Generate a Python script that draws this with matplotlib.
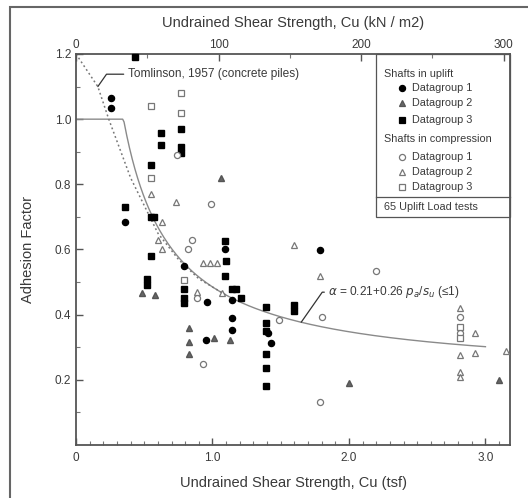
import matplotlib
matplotlib.use("Agg")
import matplotlib.pyplot as plt
from matplotlib.patches import Rectangle
from matplotlib.lines import Line2D
import numpy as np

plt.rcParams['font.family'] = ['Liberation Sans', 'DejaVu Sans']

# undrained shear strength cu (tsf) and adhesion factor, per group
up1_cu = [0.26, 0.26, 0.36, 0.79, 0.96, 1.14, 1.14, 1.14, 0.95, 1.41, 1.43, 1.79, 1.09]
up1_a = [1.064, 1.034, 0.684, 0.55, 0.44, 0.445, 0.39, 0.353, 0.322, 0.345, 0.313, 0.598, 0.60]

up2_cu = [0.48, 0.58, 0.83, 0.83, 0.83, 1.01, 1.13, 1.06, 2.0, 3.1]
up2_a = [0.466, 0.46, 0.36, 0.317, 0.28, 0.328, 0.322, 0.82, 0.19, 0.2]

up3_cu = [0.43, 0.77, 0.77, 0.77, 0.62, 0.62, 0.55, 0.36, 0.55, 0.57, 0.55, 0.52, 0.52,
          1.10, 1.09, 1.09, 0.79, 0.79, 0.79, 1.14, 1.17, 1.21, 1.39, 1.39, 1.39, 1.39,
          1.39, 1.39, 1.60, 1.60]
up3_a = [1.19, 0.97, 0.915, 0.895, 0.957, 0.92, 0.86, 0.73, 0.70, 0.70, 0.58, 0.51, 0.49,
         0.565, 0.625, 0.52, 0.48, 0.45, 0.435, 0.48, 0.48, 0.45, 0.424, 0.375, 0.35, 0.28,
         0.236, 0.18, 0.43, 0.41]

co1_cu = [0.74, 0.99, 0.85, 0.82, 0.93, 1.49, 1.80, 2.20, 1.79, 0.89, 2.81, 2.81]
co1_a = [0.89, 0.74, 0.63, 0.60, 0.25, 0.383, 0.393, 0.534, 0.132, 0.45, 0.393, 0.343]

co2_cu = [0.55, 0.73, 0.63, 0.60, 0.63, 0.93, 0.98, 1.03, 1.07, 0.89, 1.60, 1.79,
          2.81, 2.81, 2.81, 2.81, 2.92, 2.92, 3.15]
co2_a = [0.77, 0.745, 0.684, 0.63, 0.60, 0.558, 0.558, 0.558, 0.466, 0.47, 0.613, 0.52,
         0.42, 0.276, 0.224, 0.21, 0.343, 0.282, 0.29]

co3_cu = [0.55, 0.77, 0.77, 0.55, 0.79, 2.81, 2.81]
co3_a = [1.04, 1.08, 1.02, 0.82, 0.506, 0.362, 0.328]

# Tomlinson (1957) design line for concrete piles
tom_cu = [0.0, 0.16, 0.24, 0.40, 0.60, 0.75, 0.90, 1.10]
tom_a = [1.20, 1.10, 1.00, 0.82, 0.65, 0.57, 0.51, 0.46]

PA = 1.058  # atmospheric pressure in tsf
KPA_PER_TSF = 95.76

fig = plt.figure(figsize=(5.28, 4.98), dpi=100)
ax = fig.add_axes([76 / 528, 1 - 445 / 498, 434 / 528, 391 / 498])

txt = '#3a3a3a'
grey = '#8a8a8a'

# design curves
cu_line = np.linspace(0.001, 3.0, 300)
a_line = np.minimum(1.0, 0.21 + 0.26 * PA / cu_line)
ax.plot(np.r_[0, cu_line], np.r_[1.0, a_line], color=grey, lw=1.0)
ax.plot(tom_cu, tom_a, color='#777777', lw=1.1, ls=(0, (1.2, 1.8)))

ms = 4.4
kw = dict(ls='none', clip_on=False, zorder=3)
ax.plot(up1_cu, up1_a, marker='o', mfc='k', mec='k', ms=ms, **kw)
ax.plot(up2_cu, up2_a, marker='^', mfc='#666666', mec='#555555', ms=ms, **kw)
ax.plot(up3_cu, up3_a, marker='s', mfc='k', mec='k', ms=ms, **kw)
ax.plot(co1_cu, co1_a, marker='o', mfc='white', mec='#777777', mew=0.9, ms=ms, **kw)
ax.plot(co2_cu, co2_a, marker='^', mfc='white', mec='#777777', mew=0.9, ms=ms, **kw)
ax.plot(co3_cu, co3_a, marker='s', mfc='white', mec='#777777', mew=0.9, ms=ms, **kw)

# curve labels with leaders
ax.annotate('Tomlinson, 1957 (concrete piles)', xy=(0.16, 1.10), xytext=(0.38, 1.138),
            fontsize=8.6, color=txt, va='center', ha='left',
            arrowprops=dict(arrowstyle='-', color='#333333', lw=0.9, shrinkA=1, shrinkB=0,
                            relpos=(0, 0.5),
                            connectionstyle='angle,angleA=0,angleB=55,rad=0'))
cu_lab = 1.65
ax.annotate(r'$\alpha$ = 0.21+0.26 $p_a$/$s_u$ (≤1)',
            xy=(cu_lab, 0.21 + 0.26 * PA / cu_lab), xytext=(1.85, 0.469),
            fontsize=8.6, color=txt, va='center', ha='left',
            arrowprops=dict(arrowstyle='-', color='#333333', lw=0.9, shrinkA=1, shrinkB=0,
                            relpos=(0, 0.5),
                            connectionstyle='angle,angleA=0,angleB=55,rad=0'))

ax.set_xlim(0, 3.18)
ax.set_ylim(0, 1.2)
ax.set_xticks([0, 1, 2, 3])
ax.set_xticklabels(['0', '1.0', '2.0', '3.0'])
ax.set_xticks(np.arange(0.1, 3.15, 0.1), minor=True)
ax.set_yticks([0.2, 0.4, 0.6, 0.8, 1.0, 1.2])
ax.set_yticklabels(['0.2', '0.4', '0.6', '0.8', '1.0', '1.2'])
ax.set_yticks(np.arange(0.1, 1.2, 0.2), minor=True)
ax.tick_params(axis='both', which='major', direction='in', length=5, width=1,
               labelsize=8.5, labelcolor=txt, color='#555555')
ax.tick_params(axis='both', which='minor', direction='in', length=3, width=0.8,
               color='#777777')
ax.tick_params(axis='x', pad=5)
for s in ax.spines.values():
    s.set_color('#555555')
    s.set_linewidth(1.3)

ax.set_xlabel('Undrained Shear Strength, Cu (tsf)', fontsize=10.5, color=txt, labelpad=9)
ax.set_ylabel('Adhesion Factor', fontsize=10.5, color=txt, labelpad=14)

top = ax.secondary_xaxis('top', functions=(lambda x: x * KPA_PER_TSF,
                                            lambda k: k / KPA_PER_TSF))
top.set_xticks([0, 100, 200, 300])
top.set_xticks([50, 150, 250], minor=True)
top.tick_params(which='major', direction='in', length=5, width=1, labelsize=8.5,
                labelcolor=txt, color='#555555', pad=2)
top.tick_params(which='minor', direction='in', length=3, width=0.8, color='#777777')
top.spines['top'].set_visible(False)
top.set_xlabel('Undrained Shear Strength, Cu (kN / m2)', fontsize=10.5, color=txt,
               labelpad=9)

# legend drawn as a boxed panel in pixel positions
def fx(px):
    return px / 528

def fy(py):
    return 1 - py / 498

fig.patches.append(Rectangle((fx(376), fy(217)), fx(510) - fx(376), fy(54) - fy(217),
                             transform=fig.transFigure, fill=False, ec='#555555', lw=0.9))
fig.lines.append(Line2D([fx(376), fx(510)], [fy(197), fy(197)], transform=fig.transFigure,
                        color='#555555', lw=0.9))
fs = 7.8
fig.text(fx(384), fy(74), 'Shafts in uplift', fontsize=fs, color=txt, va='center')
fig.text(fx(384), fy(139), 'Shafts in compression', fontsize=fs, color=txt, va='center')
fig.text(fx(384), fy(207), '65 Uplift Load tests', fontsize=fs, color=txt, va='center')
rows = [
    (88, 'o', 'k', 'k', 'Datagroup 1'),
    (103, '^', '#666666', '#555555', 'Datagroup 2'),
    (120, 's', 'k', 'k', 'Datagroup 3'),
    (157, 'o', 'white', '#777777', 'Datagroup 1'),
    (172, '^', 'white', '#777777', 'Datagroup 2'),
    (187, 's', 'white', '#777777', 'Datagroup 3'),
]
for py, m, fc, ec, lab in rows:
    fig.lines.append(Line2D([fx(402)], [fy(py)], transform=fig.transFigure, ls='none',
                            marker=m, mfc=fc, mec=ec, ms=ms, mew=0.9))
    fig.text(fx(412), fy(py), lab, fontsize=fs, color=txt, va='center')

# outer frame
fig.patches.append(Rectangle((fx(10), -0.1), 1.2, fy(7) + 0.1, transform=fig.transFigure,
                             fill=False, ec='#666666', lw=1.5))

fig.savefig('out.png', dpi=100)
